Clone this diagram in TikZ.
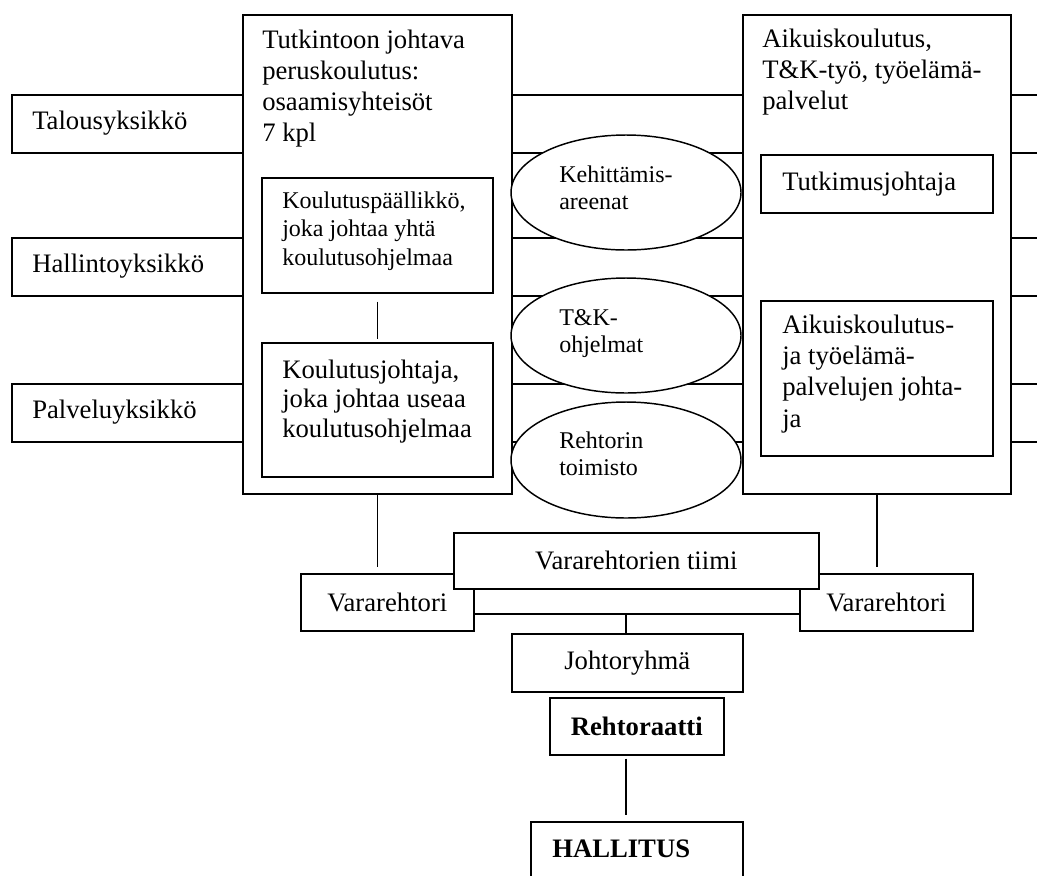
\documentclass[tikz,border=0pt]{standalone}
\usepackage{fontspec}
\setmainfont{Liberation Serif}
\usetikzlibrary{shapes.geometric}

% one drawing unit = one pixel of the 1037 x 875 sheet
\newcommand\pxu{0.75pt}
\newcommand\bigfont{\fontsize{20}{23.25}\selectfont}
\newcommand\midfont{\fontsize{20}{22.3}\selectfont}
\newcommand\ovalfont{\fontsize{18}{20.25}\selectfont}
\newcommand\lines[1]{\begin{tabular}[t]{@{}l@{}}#1\end{tabular}}

\tikzset{
  box/.style={draw, line width=1.2pt, fill=white, rectangle, inner sep=0pt, anchor=north west},
  cbox/.style={draw, line width=1.2pt, fill=white, rectangle, inner sep=0pt, font=\bigfont},
  oval/.style={draw, line width=1.1pt, fill=white, ellipse, inner sep=0pt},
  txt/.style={inner sep=0pt, anchor=base west, font=\bigfont},
  link/.style={line width=1.2pt},
}

\begin{document}
\begin{tikzpicture}[x=0.75pt, y=-0.75pt]
\useasboundingbox (0,0) rectangle (1037,875);
\clip (0,0) rectangle (1037,875);

% support units: bands running behind the two wings
\node[box, minimum width=1060*\pxu, minimum height=58*\pxu] (talous) at (11,94) {};
\node[box, minimum width=1060*\pxu, minimum height=58*\pxu] (hallinto) at (11,237) {};
\node[box, minimum width=1060*\pxu, minimum height=58*\pxu] (palvelu) at (11,383) {};
\node[txt] (talous-t) at (32,129) {Talousyksikkö};
\node[txt] (hallinto-t) at (32,272) {Hallintoyksikkö};
\node[txt] (palvelu-t) at (32,418) {Palveluyksikkö};

% the two wings
\node[box, minimum width=269*\pxu, minimum height=479*\pxu] (tutk) at (242,14) {};
\node[box, minimum width=268*\pxu, minimum height=479*\pxu] (aik) at (742,14) {};
\node[txt] (tutk-t) at (262,48) {\lines{Tutkintoon johtava\\peruskoulutus:\\osaamisyhteisöt\\7 kpl}};
\node[txt] (aik-t) at (762,47) {\lines{Aikuiskoulutus,\\T\&K-työ, työelämä-\\palvelut}};

% leaders inside the left wing
\node[box, minimum width=231*\pxu, minimum height=115*\pxu] (kp) at (261,177) {};
\node[box, minimum width=231*\pxu, minimum height=134*\pxu] (kj) at (261,342) {};
\node[txt, font=\fontsize{18}{21.4}\selectfont] (kp-t) at (282,208)
  {\lines{Koulutuspäällikkö,\\joka johtaa yhtä\\koulutusohjelmaa}};
\node[txt, font=\midfont] (kj-t) at (282,378)
  {\lines{Koulutusjohtaja,\\joka johtaa useaa\\koulutusohjelmaa}};
\draw[link, shorten <=6pt, shorten >=2.25pt] (kp.south) -- (kj.north);

% leaders inside the right wing
\node[box, minimum width=232*\pxu, minimum height=58*\pxu] (tj) at (760,154) {};
\node[box, minimum width=232*\pxu, minimum height=155*\pxu] (atj) at (760,300) {};
\node[txt] (tj-t) at (782,190) {Tutkimusjohtaja};
\node[txt, font=\fontsize{20}{23.6}\selectfont] (atj-t) at (782,333)
  {\lines{Aikuiskoulutus-\\ja työelämä-\\palvelujen johta-\\ja}};

% shared arenas between the wings
\node[oval, minimum width=230*\pxu, minimum height=115*\pxu] (areena) at (626,192.5) {};
\node[oval, minimum width=230*\pxu, minimum height=115*\pxu] (tk) at (626,335.5) {};
\node[oval, minimum width=230*\pxu, minimum height=116*\pxu] (toimisto) at (626,460) {};
\node[txt, font=\ovalfont] (areena-t) at (559,182) {\lines{Kehittämis-\\areenat}};
\node[txt, font=\ovalfont] (tk-t) at (559,325) {\lines{T\&K-\\ohjelmat}};
\node[txt, font=\ovalfont] (toimisto-t) at (559,448) {\lines{Rehtorin\\toimisto}};

% management chain
\node[cbox, anchor=north west, minimum width=173*\pxu, minimum height=57*\pxu] (vrL) at (300,573) {Vararehtori};
\node[cbox, anchor=north west, minimum width=173*\pxu, minimum height=57*\pxu] (vrR) at (799,573) {Vararehtori};
\node[cbox, anchor=north west, minimum width=365*\pxu, minimum height=56*\pxu] (tiimi) at (453,532) {Vararehtorien tiimi};
\node[cbox, anchor=north west, minimum width=231*\pxu, minimum height=58*\pxu] (joht) at (511,633) {Johtoryhmä};
\node[cbox, anchor=north west, minimum width=174*\pxu, minimum height=57*\pxu, font=\bigfont\bfseries] (rht) at (549,697) {Rehtoraatti};
\node[box, minimum width=212*\pxu, minimum height=100*\pxu] (hal) at (530,821) {};
\node[txt, font=\bigfont\bfseries] (hal-t) at (552,857) {HALLITUS};

\draw[link, shorten >=4.5pt] (tutk.south) -- (tutk.south |- vrL.north);
\draw[link, shorten >=4.5pt] (aik.south) -- (aik.south |- vrR.north);
\coordinate (bus) at (626,614);
\draw[link] (vrL.east |- bus) -- (vrR.west |- bus);
\draw[link] (bus) -- (bus |- joht.north);
\draw[link, shorten <=2.25pt, shorten >=4.5pt] (rht.south -| bus) -- (hal.north -| bus);
\end{tikzpicture}
\end{document}
